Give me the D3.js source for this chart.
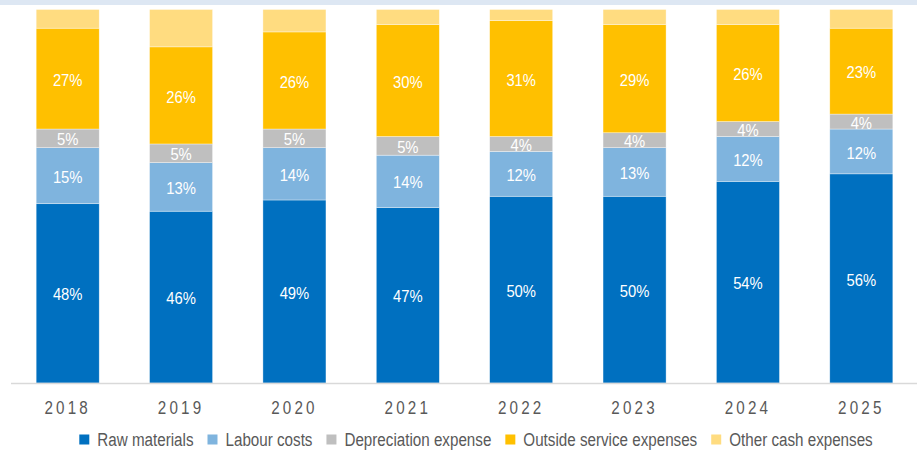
<!DOCTYPE html>
<html>
<head>
<meta charset="utf-8">
<script src="https://cdn.jsdelivr.net/npm/d3@7/dist/d3.min.js"></script>
<style>
  html, body { margin: 0; padding: 0; background: #ffffff; }
  svg { display: block; font-family: Arial, "Liberation Sans", sans-serif; }
</style>
</head>
<body>
<svg id="chart" width="917" height="450"></svg>
<script>
// Cost composition by year (share of total, %)
const years = ["2018", "2019", "2020", "2021", "2022", "2023", "2024", "2025"];
const rawMaterials    = [48, 46, 49, 47, 50, 50, 54, 56];
const labourCosts     = [15, 13, 14, 14, 12, 13, 12, 12];
const depreciation    = [5, 5, 5, 5, 4, 4, 4, 4];
const outsideServices = [27, 26, 26, 30, 31, 29, 26, 23];
const otherCash       = [5, 10, 6, 4, 3, 4, 4, 5];

const seriesNames = ["Raw materials", "Labour costs", "Depreciation expense",
                     "Outside service expenses", "Other cash expenses"];
const seriesValues = [rawMaterials, labourCosts, depreciation, outsideServices, otherCash];
const seriesColors = ["#0070C0", "#7FB4DE", "#BFBFBF", "#FFC000", "#FFDC80"];
const labelledSeries = [true, true, true, true, false];

const W = 917, H = 450;
const svg = d3.select("#chart");

// header strip
svg.append("rect").attr("x", 0).attr("y", 0).attr("width", W).attr("height", 5)
  .attr("fill", "#DDE7F3");

// build table for stacking
const keys = seriesNames;
const table = years.map((y, i) => {
  const row = { year: y };
  keys.forEach((k, j) => { row[k] = seriesValues[j][i]; });
  return row;
});
const stacked = d3.stack().keys(keys)(table);

const x = d3.scaleBand().domain(years).range([11, 918])
  .paddingInner(0.444).paddingOuter(0.222);
const y = d3.scaleLinear().domain([0, 100]).range([383, 9.5]);
const color = d3.scaleOrdinal().domain(keys).range(seriesColors);

// bars
const layers = svg.append("g").selectAll("g").data(stacked).join("g")
  .attr("fill", d => color(d.key));
layers.selectAll("rect").data(d => d).join("rect")
  .attr("x", d => x(d.data.year))
  .attr("width", x.bandwidth())
  .attr("y", d => y(d[1]))
  .attr("height", d => y(d[0]) - y(d[1]))
  .attr("stroke", "#ffffff").attr("stroke-width", 0.6).attr("stroke-opacity", 0.6);

// value labels
const labelLayers = svg.append("g").selectAll("g")
  .data(stacked.filter((s, i) => labelledSeries[i])).join("g");
labelLayers.selectAll("text").data(d => d).join("text")
  .attr("transform", d => {
    const cx = x(d.data.year) + x.bandwidth() / 2;
    const cy = (y(d[0]) + y(d[1])) / 2 + 17 * 0.36 + 1;
    return `translate(${cx},${cy}) scale(0.87,1)`;
  })
  .attr("text-anchor", "middle")
  .attr("font-size", 17)
  .attr("fill", "#ffffff")
  .text(d => d3.format("d")(d[1] - d[0]) + "%");

// baseline axis
const xAxis = d3.axisBottom(x).tickSize(0).tickPadding(0);
const axisG = svg.append("g").attr("transform", `translate(0,${y(0)})`).call(xAxis);
axisG.select(".domain").attr("stroke", "#D9D9D9").attr("stroke-width", 1.5)
  .attr("d", `M11,0.5H${W}`);
axisG.selectAll(".tick text")
  .attr("y", 0).attr("dy", 0)
  .attr("font-family", "Arial, 'Liberation Sans', sans-serif")
  .attr("font-size", 19)
  .attr("fill", "#595959")
  .attr("letter-spacing", 4)
  .attr("text-anchor", "middle")
  .attr("transform", "translate(0,31) scale(0.8,1)");

// legend
const legend = svg.append("g");
const items = legend.selectAll("g").data(keys).join("g");
items.append("rect").attr("width", 10).attr("height", 10)
  .attr("y", -5).attr("fill", d => color(d));
items.append("text")
  .attr("transform", "translate(18,6.5) scale(0.8,1)")
  .attr("font-size", 19).attr("fill", "#595959")
  .text(d => d);
let cursor = 0;
const offsets = [];
items.each(function(d) {
  const tw = d3.select(this).select("text").node().getComputedTextLength() * 0.8;
  offsets.push(cursor);
  cursor += 18 + tw + 14;
});
const total = cursor - 14;
const startX = 476 - total / 2;
items.attr("transform", (d, i) => `translate(${startX + offsets[i]},439.5)`);
</script>
</body>
</html>
